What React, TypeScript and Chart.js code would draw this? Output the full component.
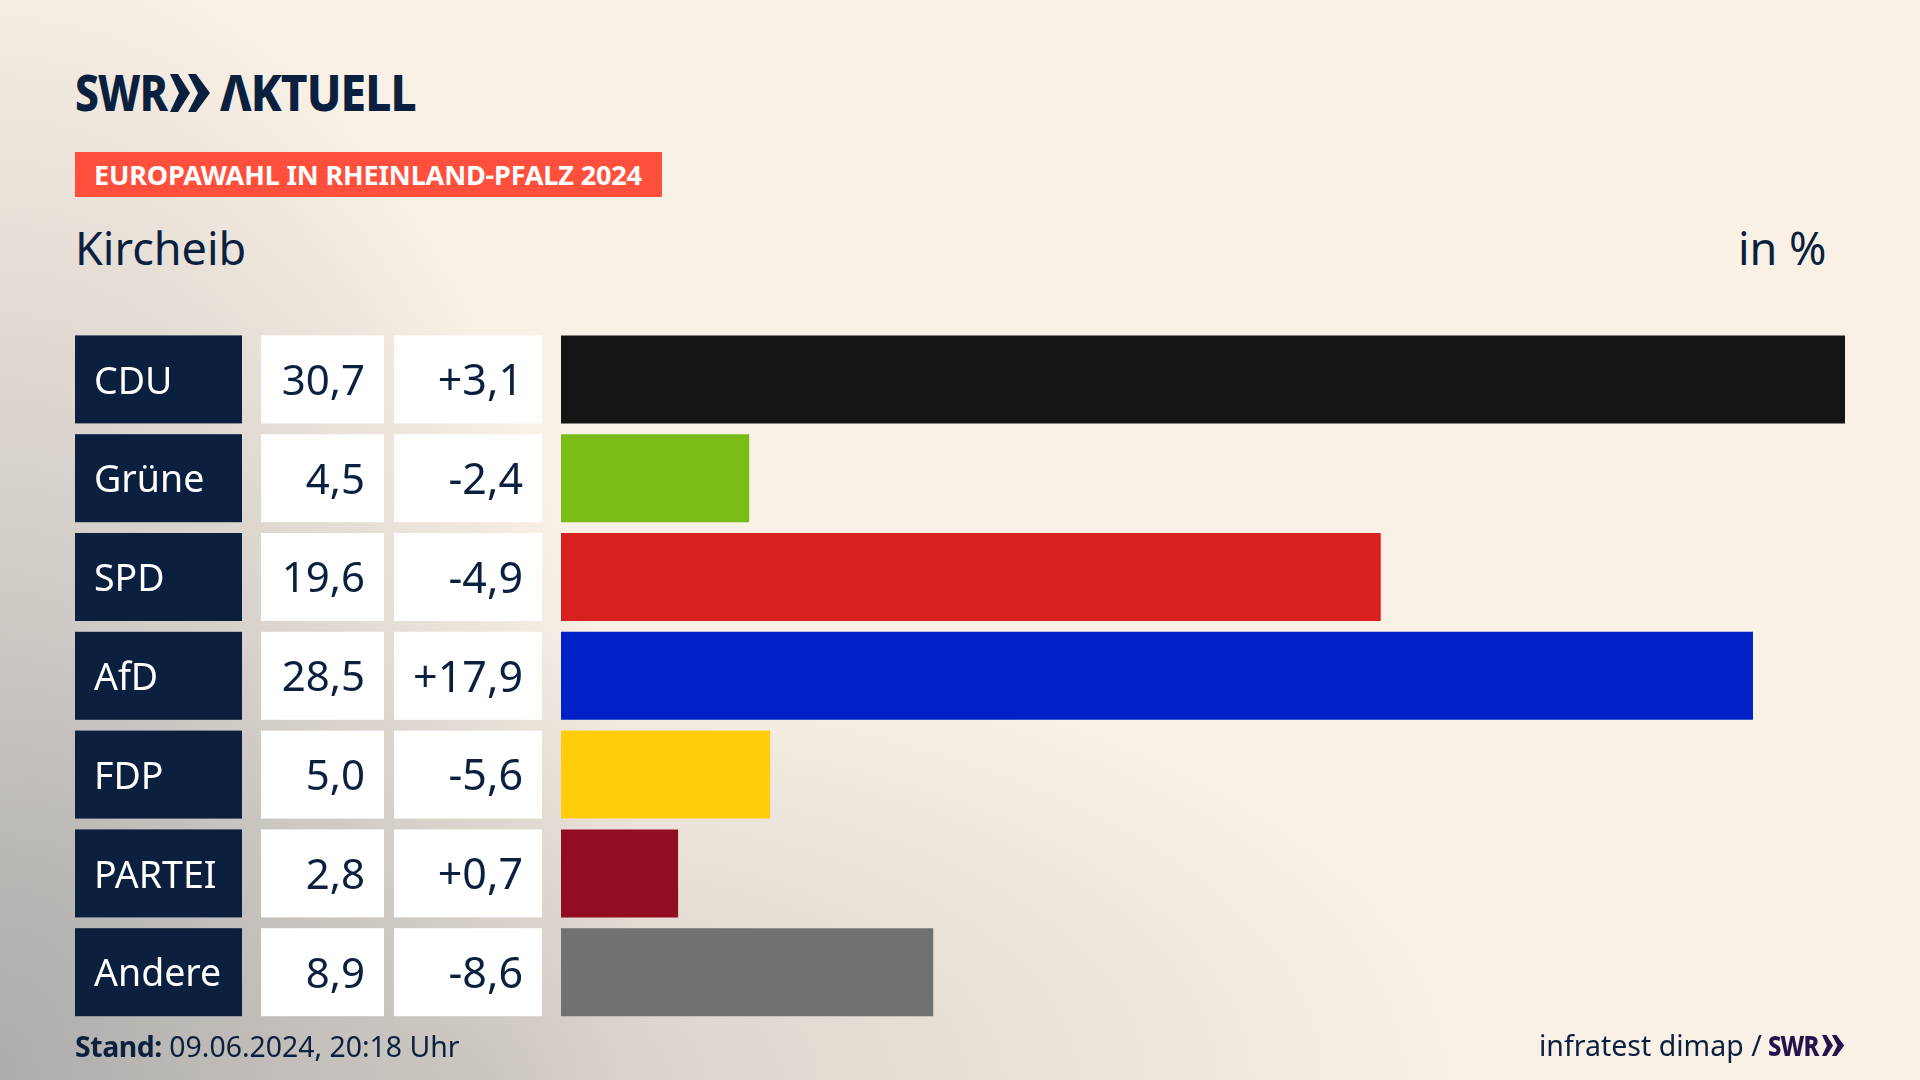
import { Chart, registerables } from "chart.js";
import { useEffect, useRef } from "react";

Chart.register(...registerables);

const parties = ["CDU", "Grüne", "SPD", "AfD", "FDP", "PARTEI", "Andere"];
const shares = [30.7, 4.5, 19.6, 28.5, 5.0, 2.8, 8.9];
const changes = [3.1, -2.4, -4.9, 17.9, -5.6, 0.7, -8.6];
const barColors = ["#141414", "#7abd19", "#d8201f", "#0021c8", "#ffcd0a", "#920d22", "#707173"];

const navy = "#0b1f3f";
const fontName = '"Noto Sans"';

const comma = (v: number) => v.toFixed(1).replace(".", ",");
const signed = (v: number) => (v > 0 ? "+" : "") + comma(v);

// party box and the two number cells left of the bars
const tableCells = {
  id: "tableCells",
  beforeDatasetsDraw(chart: Chart) {
    const { ctx } = chart;
    const yScale = chart.scales.y;
    const meta = chart.getDatasetMeta(0);
    ctx.save();
    ctx.textBaseline = "middle";
    parties.forEach((party, i) => {
      const h = (meta.data[i] as any).height;
      const y = yScale.getPixelForValue(i);
      const top = y - h / 2;
      ctx.fillStyle = navy;
      ctx.fillRect(75, top, 167, h);
      ctx.fillStyle = "#ffffff";
      ctx.fillRect(261, top, 123, h);
      ctx.fillRect(394, top, 148, h);
      ctx.font = `37.5px ${fontName}`;
      ctx.textAlign = "left";
      ctx.fillText(party, 94, y + 3.5);
      ctx.fillStyle = navy;
      ctx.textAlign = "right";
      ctx.font = `42px ${fontName}`;
      ctx.fillText(comma(shares[i]), 365, y + 3.5);
      ctx.font = `43px ${fontName}`;
      ctx.fillText(signed(changes[i]), 523, y + 3.5);
    });
    ctx.restore();
  },
};

function Chevrons({ x, y, h, color }: { x: number; y: number; h: number; color: string }) {
  return (
    <svg
      viewBox="0 0 40 38"
      style={{ position: "absolute", left: x, top: y, height: h, width: (h * 40) / 38 }}
    >
      <polygon points="0,0 8,0 20,19 8,38 0,38 9,19" fill={color} />
      <polygon points="18,0 26,0 40,19 26,38 18,38 28,19" fill={color} />
    </svg>
  );
}

function text(x: number, y: number, size: number, extra: object = {}) {
  return {
    position: "absolute" as const,
    left: x,
    top: y,
    fontSize: size,
    lineHeight: 1,
    color: navy,
    whiteSpace: "nowrap" as const,
    ...extra,
  };
}

const logoStyle = (squeeze: number) => ({
  fontWeight: 800,
  letterSpacing: -1,
  transform: `scaleX(${squeeze})`,
  transformOrigin: "left center",
});

export default function App() {
  const canvasRef = useRef<HTMLCanvasElement | null>(null);

  useEffect(() => {
    if (!canvasRef.current) return;
    const chart = new Chart(canvasRef.current, {
      type: "bar",
      data: {
        labels: parties,
        datasets: [
          {
            data: shares,
            backgroundColor: barColors,
            barPercentage: 88 / 98.8,
            categoryPercentage: 1,
          },
        ],
      },
      options: {
        indexAxis: "y",
        responsive: false,
        animation: false,
        layout: { padding: { left: 561, right: 75, top: 330, bottom: 58.4 } },
        plugins: { legend: { display: false }, tooltip: { enabled: false } },
        scales: {
          x: { display: false, min: 0, max: 30.7 },
          y: { display: false },
        },
      },
      plugins: [tableCells],
    });
    return () => chart.destroy();
  }, []);

  return (
    <div
      style={{
        position: "absolute",
        left: 0,
        top: 0,
        width: 1920,
        height: 1080,
        overflow: "hidden",
        fontFamily: fontName,
        background:
          "radial-gradient(ellipse 650px 1150px at 0% 100%, rgba(165,165,165,0.88), rgba(165,165,165,0) 100%), radial-gradient(ellipse 1000px 460px at 25% 100%, rgba(190,185,180,0.6), rgba(190,185,180,0) 100%), #faf1e6",
      }}
    >
      <div style={text(75, 67, 50, logoStyle(0.85))}>SWR</div>
      <Chevrons x={170} y={74} h={38} color={navy} />
      <div style={text(220, 67, 50, logoStyle(0.92))}>ΛKTUELL</div>

      <div
        style={{
          position: "absolute",
          left: 75,
          top: 152,
          width: 587,
          height: 45,
          background: "#ff4f3d",
        }}
      />
      <div style={text(94, 161, 27, { fontWeight: 700, color: "#ffffff", letterSpacing: -0.15 })}>
        EUROPAWAHL IN RHEINLAND-PFALZ 2024
      </div>

      <div style={text(75, 225, 45)}>Kircheib</div>
      <div style={text(1738, 225, 45)}>in %</div>

      <canvas
        ref={canvasRef}
        width={1920}
        height={1080}
        style={{ position: "absolute", left: 0, top: 0 }}
      />

      <div style={text(75, 1032, 28.4)}>
        <b style={{ letterSpacing: -0.4 }}>Stand:</b> 09.06.2024, 20:18 Uhr
      </div>
      <div style={text(1539, 1031, 28.5)}>infratest dimap /</div>
      <div style={text(1768, 1031, 28, logoStyle(0.85))}>
        <span style={{ color: "#24124d" }}>SWR</span>
      </div>
      <Chevrons x={1822} y={1035} h={21} color="#24124d" />
    </div>
  );
}
